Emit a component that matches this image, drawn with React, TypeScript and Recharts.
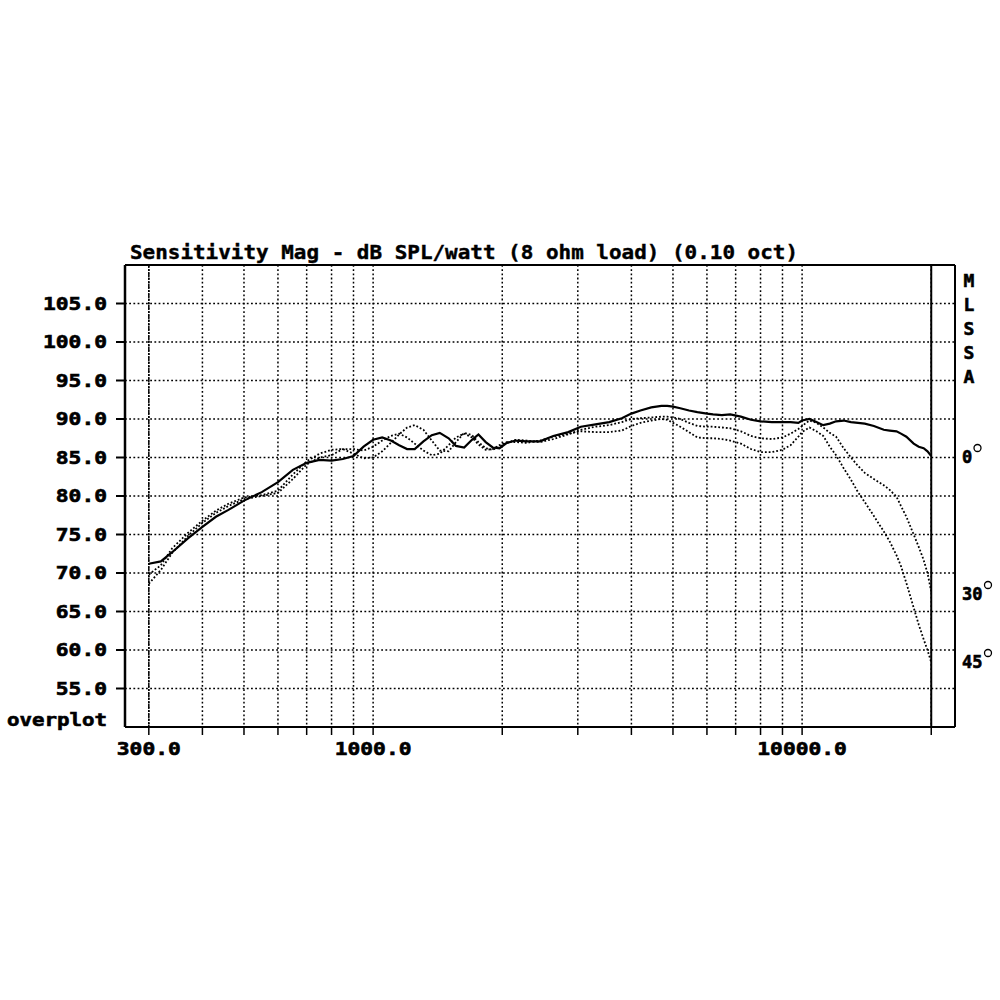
import React from 'react';
import { LineChart, Line, XAxis, YAxis, CartesianGrid, ReferenceLine } from 'recharts';

// Frequencies (Hz)
const freqs = [
  300, 320, 340, 370, 400, 430, 460, 500, 550, 600,
  650, 700, 750, 800, 850, 900, 950, 1000, 1050, 1100,
  1150, 1200, 1250, 1310, 1370, 1430, 1500, 1560, 1630, 1700,
  1760, 1830, 1900, 1970, 2050, 2150, 2280, 2450, 2630, 2850,
  3050, 3300, 3550, 3800, 4000, 4200, 4450, 4700, 4850, 5000,
  5200, 5450, 5700, 6000, 6200, 6500, 6800, 7200, 7600, 8000,
  8500, 9000, 9400, 9800, 10000, 10400, 10800, 11200, 11600, 12000,
  12500, 13000, 13500, 14000, 14700, 15500, 16000, 16600, 17000, 17500,
  18200, 18700, 19200, 19600, 20000,
];

// 0 degree (solid)
const onAxis = [
  71.2, 71.5, 72.7, 74.5, 76.0, 77.3, 78.2, 79.4, 80.5, 81.8,
  83.4, 84.3, 84.7, 84.6, 84.8, 85.2, 86.4, 87.3, 87.6, 87.2,
  86.6, 86.1, 86.1, 87.1, 87.9, 88.2, 87.5, 86.5, 86.3, 87.3,
  88.0, 87.0, 86.3, 86.2, 86.9, 87.2, 87.1, 87.1, 87.8, 88.3,
  89.0, 89.3, 89.6, 90.1, 90.7, 91.1, 91.5, 91.7, 91.7, 91.6,
  91.4, 91.1, 90.9, 90.7, 90.6, 90.5, 90.6, 90.3, 89.9, 89.7,
  89.6, 89.6, 89.6, 89.5, 89.8, 90.0, 89.6, 89.2, 89.4, 89.7,
  89.8, 89.6, 89.5, 89.4, 89.1, 88.6, 88.5, 88.4, 88.1, 87.7,
  86.8, 86.4, 86.2, 85.8, 85.2,
];

// 30 degrees (dotted)
const off30 = [
  69.8, 71.0, 73.2, 75.2, 76.8, 78.1, 79.0, 79.8, 80.1, 80.7,
  82.8, 84.5, 85.5, 86.0, 86.1, 85.5, 84.9, 85.0, 85.8, 86.9,
  88.0, 88.9, 89.2, 88.6, 87.2, 85.9, 85.8, 87.0, 88.2, 87.9,
  87.0, 86.2, 86.0, 86.4, 86.9, 87.3, 87.2, 87.0, 87.4, 88.0,
  88.6, 89.0, 89.2, 89.6, 90.0, 90.1, 90.2, 90.3, 90.3, 90.2,
  90.0, 89.5, 89.1, 89.0, 89.0, 88.9, 88.8, 88.4, 87.8, 87.5,
  87.4, 87.6, 88.1, 88.7, 89.1, 89.8, 89.5, 88.9, 88.2, 87.7,
  86.2, 85.0, 83.9, 83.0, 82.2, 81.4, 80.8, 79.9, 78.7, 77.3,
  75.0, 73.4, 71.7, 70.0, 67.6,
];

// 45 degrees (dotted)
const off45 = [
  68.6, 70.4, 72.6, 74.8, 76.5, 77.8, 78.7, 79.6, 80.0, 80.4,
  82.2, 84.1, 85.0, 85.3, 86.1, 86.1, 85.9, 86.4, 87.2, 87.8,
  88.1, 87.6, 86.8, 85.9, 85.3, 85.5, 86.6, 87.6, 88.1, 87.6,
  86.7, 86.0, 86.1, 86.6, 87.0, 87.0, 86.9, 87.2, 87.7, 88.1,
  88.4, 88.3, 88.3, 88.5, 89.1, 89.5, 89.8, 90.0, 89.9, 89.5,
  89.0, 88.3, 87.6, 87.5, 87.5, 87.4, 87.2, 86.8, 86.1, 85.7,
  85.7, 86.0, 86.6, 87.7, 88.3, 88.9, 88.4, 87.8, 86.4, 85.3,
  83.6, 82.1, 80.5, 79.2, 77.4, 75.4, 74.1, 72.3, 70.9, 68.7,
  65.5, 63.3, 61.4, 60.0, 58.4,
];

const xTicks = [300, 400, 500, 600, 700, 800, 900, 1000, 2000, 3000, 4000, 5000, 6000, 7000, 8000, 9000, 10000, 20000];
const xLabeled = [300, 1000, 10000];
const yTicks = [55, 60, 65, 70, 75, 80, 85, 90, 95, 100, 105];
const xDomain = [264, 22720];
const yDomain = [50, 110];

const title = 'Sensitivity Mag - dB SPL/watt (8 ohm load) (0.10 oct)';
const sideLetters = ['M', 'L', 'S', 'S', 'A'];
const angleLabels = [
  { text: '0', y: 463 },
  { text: '30', y: 600 },
  { text: '45', y: 668 },
];

const data = freqs.map((f, i) => ({ f, a: onAxis[i], b: off30[i], c: off45[i] }));

const FONT = '"DejaVu Sans Mono", "Liberation Mono", monospace';
const BOLD = { fontFamily: FONT, fontWeight: 'bold' as const, fill: '#000', stroke: '#000', strokeWidth: 0.6 };

const XTick = (props: any) => {
  const { x, y, payload } = props;
  if (!xLabeled.includes(payload.value)) return <g />;
  const label = Number(payload.value).toFixed(1);
  return (
    <text x={x} y={y + 18} textAnchor="middle" fontSize={17} {...BOLD}
      textLength={label.length * 12.8} lengthAdjust="spacingAndGlyphs">
      {label}
    </text>
  );
};

const YTick = (props: any) => {
  const { x, y, payload } = props;
  const label = Number(payload.value).toFixed(1);
  return (
    <text x={x} y={y + 6} textAnchor="end" fontSize={17} {...BOLD}
      textLength={label.length * 12.8} lengthAdjust="spacingAndGlyphs">
      {label}
    </text>
  );
};

export default function App() {
  return (
    <div style={{ position: 'absolute', left: 0, top: 0, width: 1000, height: 1000, background: '#fff' }}>
      <LineChart width={1000} height={1000} data={data}
        margin={{ top: 265, right: 45, bottom: 233, left: 45 }}>
        <CartesianGrid stroke="#000" strokeWidth={1.5} strokeDasharray="1.8 2.4" />
        <XAxis dataKey="f" type="number" scale="log" domain={xDomain} allowDataOverflow
          ticks={xTicks} interval={0} tickSize={8} tickMargin={2} height={40}
          axisLine={{ stroke: '#000', strokeWidth: 2 }} tickLine={{ stroke: '#000', strokeWidth: 1.5 }}
          tick={<XTick />} />
        <YAxis type="number" domain={yDomain} ticks={yTicks} interval={0} width={80}
          tickSize={9} tickMargin={9} allowDataOverflow
          axisLine={{ stroke: '#000', strokeWidth: 2.5 }} tickLine={{ stroke: '#000', strokeWidth: 2 }}
          tick={<YTick />} />
        <ReferenceLine y={110} stroke="#000" strokeWidth={2} ifOverflow="visible" />
        <ReferenceLine x={xDomain[1]} stroke="#000" strokeWidth={2} ifOverflow="visible" />
        <ReferenceLine x={20000} stroke="#000" strokeWidth={2} ifOverflow="visible" />
        <ReferenceLine x={300} stroke="#000" strokeWidth={1.5} strokeDasharray="2 1" ifOverflow="visible" />
        <Line dataKey="c" type="linear" stroke="#000" strokeWidth={1.8} strokeDasharray="1.8 2"
          dot={false} isAnimationActive={false} />
        <Line dataKey="b" type="linear" stroke="#000" strokeWidth={1.8} strokeDasharray="1.8 2"
          dot={false} isAnimationActive={false} />
        <Line dataKey="a" type="linear" stroke="#000" strokeWidth={2.2}
          dot={false} isAnimationActive={false} />
      </LineChart>
      <svg width={1000} height={1000} style={{ position: 'absolute', left: 0, top: 0, pointerEvents: 'none' }}>
        <text x={130} y={259} fontSize={19} {...BOLD} strokeWidth={0.4}
          textLength={668} lengthAdjust="spacingAndGlyphs">{title}</text>
        <text x={7} y={726} fontSize={17} {...BOLD}
          textLength={100} lengthAdjust="spacingAndGlyphs">overplot</text>
        {sideLetters.map((l, i) => (
          <text key={i} x={969} y={287 + i * 24} textAnchor="middle" fontSize={18} {...BOLD}>{l}</text>
        ))}
        {angleLabels.map((a, i) => {
          const w = a.text.length * 10.5;
          return (
            <g key={i}>
              <text x={962} y={a.y} fontSize={17} {...BOLD}>{a.text}</text>
              <circle cx={962 + w + 5} cy={a.y - 15} r={3.5} fill="none" stroke="#000" strokeWidth={1.3} />
            </g>
          );
        })}
      </svg>
    </div>
  );
}
